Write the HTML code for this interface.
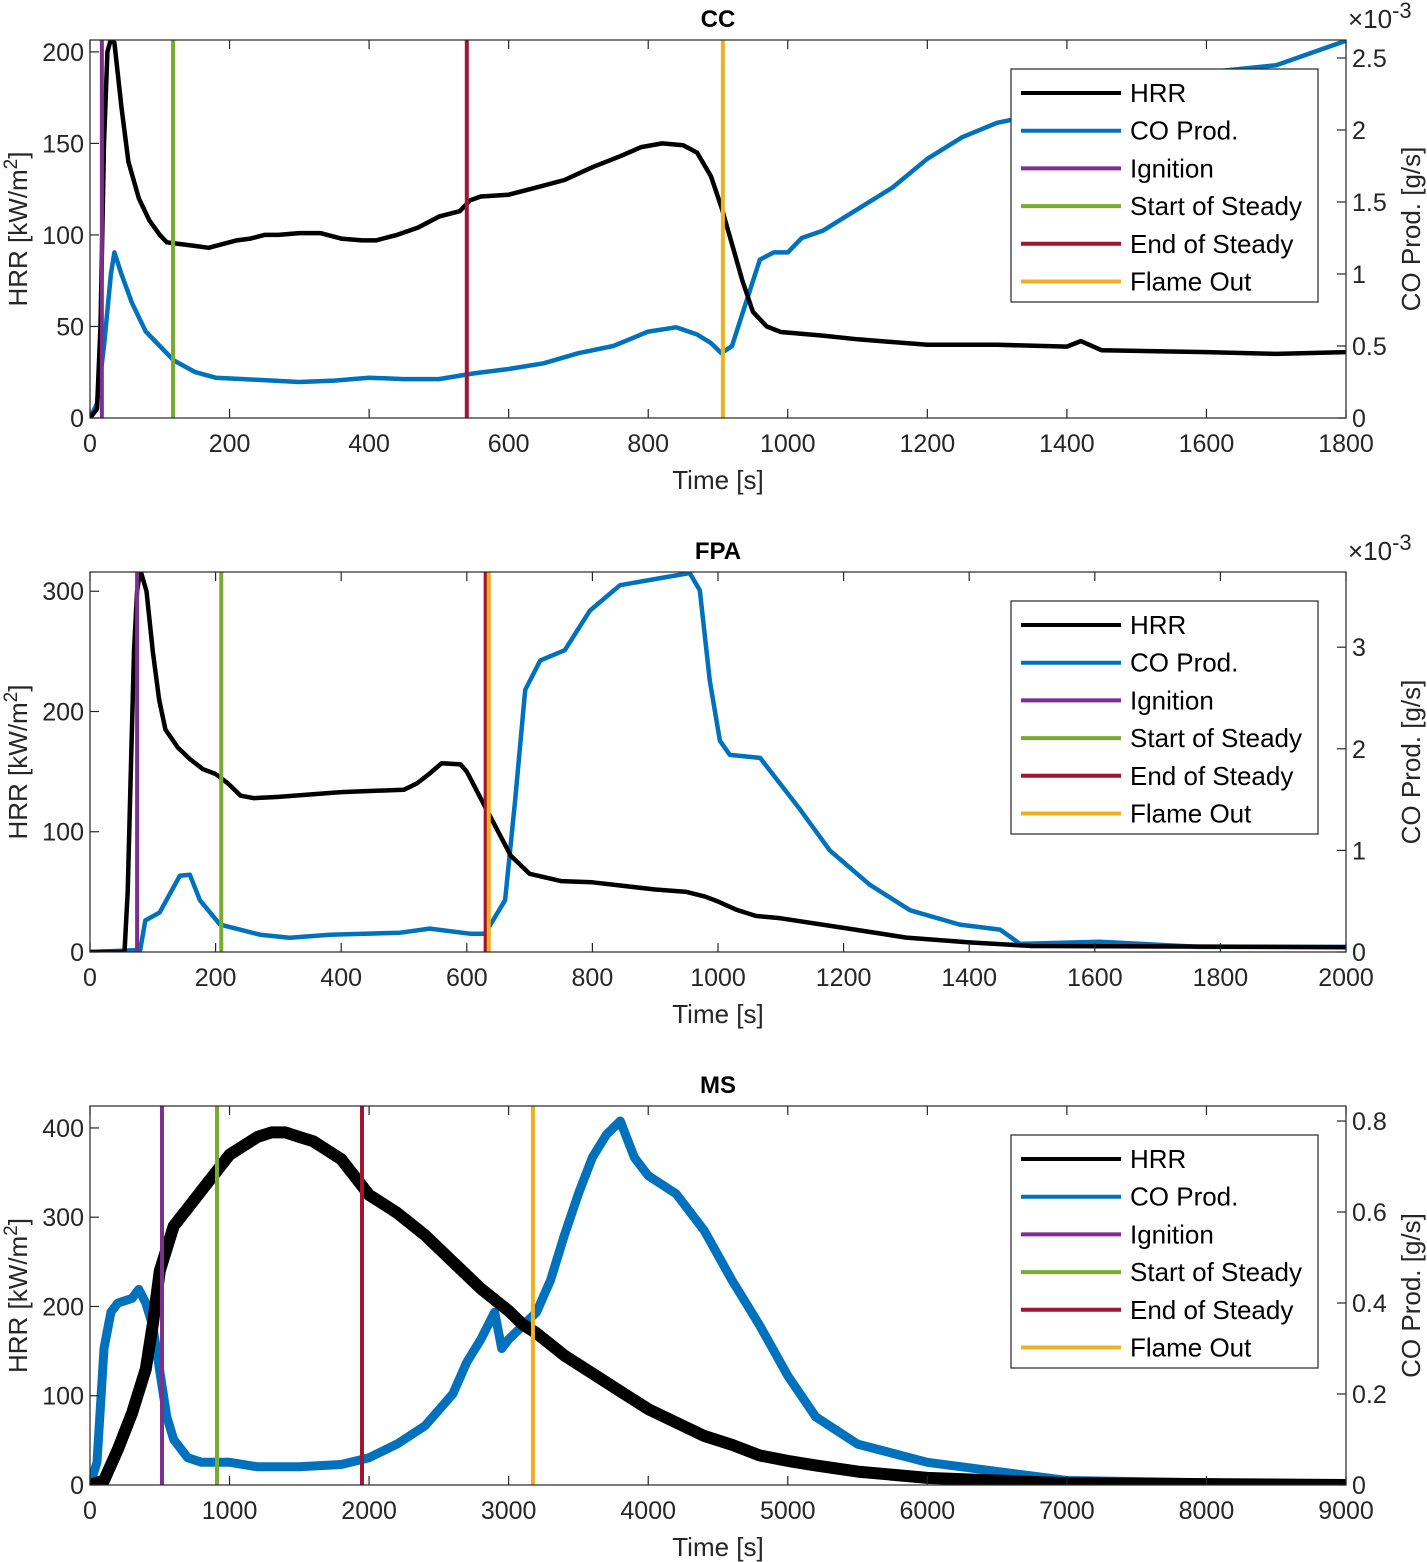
<!DOCTYPE html>
<html><head><meta charset="utf-8"><style>
html,body{margin:0;padding:0;background:#fff;}
svg{display:block;font-family:"Liberation Sans",Arial,sans-serif;}
</style></head><body>
<svg id="chart" width="1427" height="1562" viewBox="0 0 1427 1562" xmlns="http://www.w3.org/2000/svg"></svg>
<script>
// ---- CC data ----
const ccHrrT=[0,10,15,20,25,30,35,45,55,70,85,100,110,130,150,170,190,210,230,250,270,300,330,360,390,410,440,470,500,530,545,560,600,640,680,720,760,790,820,850,870,890,905,920,935,950,970,990,1050,1100,1200,1300,1400,1420,1450,1600,1700,1800];
const ccHrrV=[0,5,50,150,200,207,205,170,140,120,108,100,96,95,94,93,95,97,98,100,100,101,101,98,97,97,100,104,110,113,119,121,122,126,130,137,143,148,150,149,145,132,115,95,75,58,50,47,45,43,40,40,39,42,37,36,35,36];
const ccCoT=[0,10,20,30,35,45,60,80,100,120,150,180,220,300,350,400,450,500,550,600,650,700,750,800,840,870,890,905,920,940,960,980,1000,1020,1050,1100,1150,1200,1250,1300,1350,1400,1500,1600,1700,1800];
const ccCoV=[0,0.1,0.5,1.0,1.15,1.0,0.8,0.6,0.5,0.4,0.32,0.28,0.27,0.25,0.26,0.28,0.27,0.27,0.31,0.34,0.38,0.45,0.5,0.6,0.63,0.58,0.52,0.45,0.5,0.8,1.1,1.15,1.15,1.25,1.3,1.45,1.6,1.8,1.95,2.05,2.1,2.2,2.3,2.4,2.45,2.62];
const ccEvents=[17,119,540,907];
// ---- FPA data ----
const fpaHrrT=[0,55,60,65,70,75,80,90,100,110,120,140,160,180,200,220,240,260,300,400,500,520,540,560,590,600,615,630,650,670,700,750,800,900,950,980,1000,1030,1060,1100,1200,1300,1400,1500,2000];
const fpaHrrV=[0,0,50,150,250,300,318,300,250,210,185,170,160,152,148,140,130,128,129,133,135,140,148,157,156,150,135,120,100,80,65,59,58,52,50,46,42,35,30,28,20,12,8,5,4];
const fpaCoT=[0,80,88,111,143,159,175,207,271,318,382,494,541,605,629,661,677,693,717,756,796,844,955,971,987,1003,1019,1067,1131,1178,1242,1306,1385,1449,1481,1608,1767,2000];
const fpaCoV=[0,0.02,0.31,0.39,0.75,0.76,0.51,0.27,0.17,0.14,0.17,0.19,0.23,0.18,0.18,0.51,1.5,2.58,2.87,2.97,3.36,3.61,3.73,3.56,2.67,2.08,1.94,1.91,1.40,1.0,0.66,0.41,0.27,0.22,0.08,0.1,0.05,0.05];
const fpaEvents=[75,209,630,635];
// ---- MS data ----
const msHrrT=[0,100,200,300,400,450,500,600,700,800,900,1000,1100,1200,1300,1400,1500,1600,1800,1900,2000,2200,2400,2600,2800,3000,3100,3200,3400,3600,3800,4000,4200,4400,4600,4800,5000,5200,5500,6000,6500,7000,8000,9000];
const msHrrV=[0,5,40,80,130,180,240,290,310,330,350,370,380,390,395,395,390,385,365,345,325,305,280,250,220,195,180,170,145,125,105,85,70,55,45,33,27,22,15,8,5,2,1,0];
const msCoT=[0,50,100,150,200,300,350,400,450,500,550,600,700,800,1000,1200,1500,1800,2000,2200,2400,2600,2700,2800,2900,2950,3000,3200,3300,3400,3500,3600,3700,3800,3900,4000,4200,4400,4600,4800,5000,5200,5500,6000,6500,7000,8000,9000];
const msCoV=[0,0.05,0.3,0.38,0.4,0.41,0.43,0.4,0.35,0.25,0.15,0.1,0.06,0.05,0.05,0.04,0.04,0.045,0.06,0.09,0.13,0.2,0.27,0.32,0.38,0.3,0.32,0.38,0.45,0.55,0.64,0.72,0.77,0.8,0.72,0.68,0.64,0.56,0.45,0.35,0.24,0.15,0.09,0.05,0.03,0.01,0.005,0];
const msEvents=[516,910,1949,3174];
// ---- tick labels ----
const ccXTicks=[0,200,400,600,800,1000,1200,1400,1600,1800];
const ccYTicks=[0,50,100,150,200];
const ccRTicks=[0,0.5,1,1.5,2,2.5];
const fpaXTicks=[0,200,400,600,800,1000,1200,1400,1600,1800,2000];
const fpaYTicks=[0,100,200,300];
const fpaRTicks=[0,1,2,3];
const msXTicks=[0,1000,2000,3000,4000,5000,6000,7000,8000,9000];
const msYTicks=[0,100,200,300,400];
const msRTicks=[0,0.2,0.4,0.6,0.8];
const legendLabels=["HRR","CO Prod.","Ignition","Start of Steady","End of Steady","Flame Out"];

const NS="http://www.w3.org/2000/svg";
const svg=document.getElementById('chart');
const COL={hrr:"#000000",co:"#0072BD",ign:"#7E2F8E",start:"#77AC30",end:"#A2142F",flame:"#EDB120"};
const evCols=[COL.ign,COL.start,COL.end,COL.flame];
const evNames=["ignition-line","start-steady-line","end-steady-line","flame-out-line"];
function el(tag,attrs,parent){const e=document.createElementNS(NS,tag);for(const k in attrs)e.setAttribute(k,attrs[k]);(parent||svg).appendChild(e);return e;}
function txt(s,attrs,parent){const e=el('text',attrs,parent);e.textContent=s;return e;}

function panel(p){
  const g=el('g',{});
  
  
  const L=90,R=1346,T=p.top,B=p.bottom;
  const xs=t=>L+(t/p.xmax)*(R-L);
  const yl=v=>B-(v/p.ymax)*(B-T);
  const yr=v=>B-(v/p.rmax)*(B-T);
  const clip=el('clipPath',{id:'clip'+p.name},g);
  el('rect',{x:L,y:T,width:R-L,height:B-T},clip);
  const pg=el('g',{'clip-path':'url(#clip'+p.name+')'},g);
  function line(T_,V_,sc,color,w,name){
    let d='';for(let i=0;i<T_.length;i++)d+=(i?'L':'M')+xs(T_[i]).toFixed(1)+','+sc(V_[i]).toFixed(1);
    const e=el('path',{d:d,fill:'none',stroke:color,'stroke-width':w,'stroke-linejoin':'round'},pg);
    
    
  }
  line(p.coT,p.coV,yr,COL.co,p.coW,p.name+'-co-line');
  line(p.hrrT,p.hrrV,yl,COL.hrr,p.hrrW,p.name+'-hrr-line');
  p.events.forEach((t,i)=>{
    const e=el('line',{x1:xs(t),x2:xs(t),y1:T,y2:B,stroke:evCols[i],'stroke-width':4},pg);
    
    
  });
  const box=el('rect',{x:L,y:T,width:R-L,height:B-T,fill:'none',stroke:'#262626','stroke-width':1.2},g);
  
  
  p.xt.forEach(t=>{
    const x=xs(t);
    el('line',{x1:x,x2:x,y1:B,y2:B-9,stroke:'#262626','stroke-width':1.2},g);
    el('line',{x1:x,x2:x,y1:T,y2:T+9,stroke:'#262626','stroke-width':1.2},g);
    const e=txt(String(t),{x:x,y:B+34,'text-anchor':'middle','font-size':25,fill:'#262626'},g);
    
    
  });
  p.yt.forEach(v=>{
    const y=yl(v);
    el('line',{x1:L,x2:L+9,y1:y,y2:y,stroke:'#262626','stroke-width':1.2},g);
    const e=txt(String(v),{x:L-6,y:y+9,'text-anchor':'end','font-size':25,fill:'#262626'},g);
    
    
  });
  p.rt.forEach(v=>{
    const y=yr(v);
    el('line',{x1:R,x2:R-9,y1:y,y2:y,stroke:'#262626','stroke-width':1.2},g);
    const e=txt(String(v),{x:R+6,y:y+9,'text-anchor':'start','font-size':25,fill:'#262626'},g);
    
    
  });
  if(p.exp){
    const e=txt('',{x:1348,y:T-12,'font-size':26,fill:'#262626'},g);
    e.innerHTML='×10<tspan dy="-10" font-size="22">-3</tspan>';
    
    
  }
  const title=txt(p.title,{x:718,y:T-13,'text-anchor':'middle','font-size':24,'font-weight':'bold',fill:'#000'},g);
  
  
  const xl=txt('Time [s]',{x:718,y:B+71,'text-anchor':'middle','font-size':26,fill:'#262626'},g);
  
  
  const cy=(T+B)/2;
  const yt=txt('',{x:0,y:0,'text-anchor':'middle','font-size':26,fill:'#262626',transform:'translate(27,'+cy+') rotate(-90)'},g);
  yt.innerHTML='HRR [kW/m<tspan dy="-10" font-size="19">2</tspan><tspan dy="10">]</tspan>';
  
  
  const rtl=txt('CO Prod. [g/s]',{x:0,y:0,'text-anchor':'middle','font-size':26,fill:'#262626',transform:'translate(1420,'+cy+') rotate(-90)'},g);
  
  
  // legend
  const lg=el('g',{},g);
  
  
  const ly=T+29;
  el('rect',{x:1011,y:ly,width:307,height:233,fill:'#fff',stroke:'#262626','stroke-width':1.2},lg);
  const lc=[COL.hrr,COL.co,COL.ign,COL.start,COL.end,COL.flame];
  legendLabels.forEach((s,i)=>{
    const y=ly+24+i*37.7;
    const en=el('g',{},lg);
    
    
    el('line',{x1:1021,x2:1121,y1:y,y2:y,stroke:lc[i],'stroke-width':4},en);
    txt(s,{x:1130,y:y+9,'font-size':26,fill:'#000'},en);
  });
}
panel({name:'cc',title:'CC',top:40,bottom:418,xmax:1800,ymax:206.5,rmax:2.625,exp:true,
  hrrT:ccHrrT,hrrV:ccHrrV,coT:ccCoT,coV:ccCoV,events:ccEvents,xt:ccXTicks,yt:ccYTicks,rt:ccRTicks,hrrW:4.5,coW:4.5});
panel({name:'fpa',title:'FPA',top:572,bottom:952,xmax:2000,ymax:316,rmax:3.74,exp:true,
  hrrT:fpaHrrT,hrrV:fpaHrrV,coT:fpaCoT,coV:fpaCoV,events:fpaEvents,xt:fpaXTicks,yt:fpaYTicks,rt:fpaRTicks,hrrW:4.5,coW:4.5});
panel({name:'ms',title:'MS',top:1106,bottom:1485,xmax:9000,ymax:424.6,rmax:0.833,exp:false,
  hrrT:msHrrT,hrrV:msHrrV,coT:msCoT,coV:msCoV,events:msEvents,xt:msXTicks,yt:msYTicks,rt:msRTicks,hrrW:12,coW:9});
</script>
</body></html>
